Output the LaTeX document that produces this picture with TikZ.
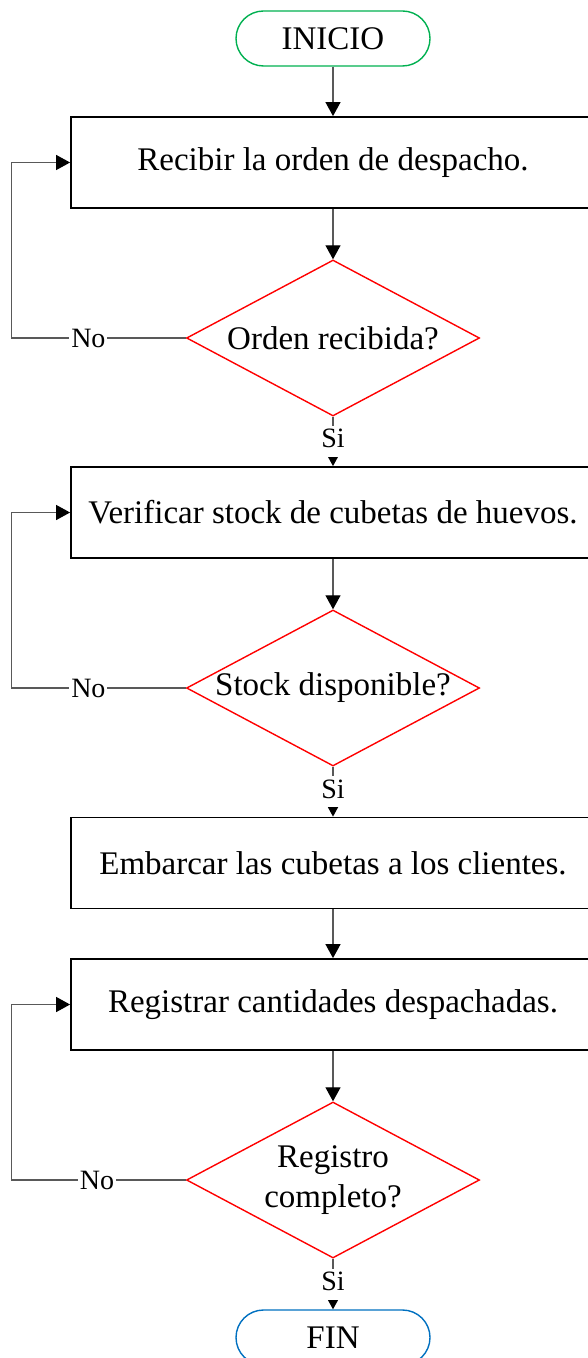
\documentclass[tikz,border=0pt]{standalone}
\usepackage{fontspec}
\setmainfont{Liberation Serif}
\usetikzlibrary{positioning,shapes.geometric,arrows.meta}
\definecolor{verdeini}{RGB}{0,176,80}
\definecolor{azulfin}{RGB}{0,112,192}
\tikzset{
  terminal/.style={draw, rounded corners=13.75pt, minimum width=97pt, minimum height=27.5pt, line width=0.7pt, font=\fontsize{16.5}{20}\selectfont},
  proceso/.style={draw, line width=0.9pt, minimum width=262pt, minimum height=45.5pt, inner sep=0pt, font=\fontsize{16.5}{20}\selectfont},
  decision/.style={diamond, draw=red, line width=0.7pt, aspect=1.88, inner sep=0pt, minimum width=146.5pt, minimum height=78pt, align=center, font=\fontsize{16.5}{20}\selectfont},
  flecha/.style={draw=black!65, line width=0.6pt, -{Triangle[length=7pt, width=7.5pt, color=black]}},
  etiq/.style={fill=white, inner sep=1pt, text height=10pt, text depth=3.5pt, font=\fontsize{14}{16}\selectfont},
}

\begin{document}
\begin{tikzpicture}[x=0.5pt, y=-0.5pt]
          \path[use as bounding box, clip] (0,0) rectangle (588,1358);
          \node[terminal, draw=verdeini] (ini) at (333,38.5) {INICIO};
          \node[proceso] (recibir) at (333,162.5) {Recibir la orden de despacho.};
          \node[decision] (orden) at (333,338) {Orden recibida?};
          \node[proceso] (verificar) at (333,512.5) {Verificar stock de cubetas de huevos.};
          \node[decision] (stock) at (333,688) {Stock disponible?};
          \node[proceso] (embarcar) at (333,863) {Embarcar las cubetas a los clientes.};
          \node[proceso] (registrar) at (333,1004.5) {Registrar cantidades despachadas.};
          \node[decision] (registro) at (333,1180) {Registro\\completo?};
          \node[terminal, draw=azulfin] (fin) at (333,1337.5) {FIN};
          % flujo principal
          \draw[flecha] (ini) -- (recibir);
          \draw[flecha] (recibir) -- (orden);
          \draw[flecha] (orden) -- node[etiq]{Si} (verificar);
          \draw[flecha] (verificar) -- (stock);
          \draw[flecha] (stock) -- node[etiq]{Si} (embarcar);
          \draw[flecha] (embarcar) -- (registrar);
          \draw[flecha] (registrar) -- (registro);
          \draw[flecha] (registro) -- node[etiq]{Si} (fin);
          % retornos
          \draw[flecha] (orden.west) -- node[etiq, text depth=1pt, pos=0.56]{No} ++(-174,0) |- (recibir.west);
          \draw[flecha] (stock.west) -- node[etiq, text depth=1pt, pos=0.56]{No} ++(-174,0) |- (verificar.west);
          \draw[flecha] (registro.west) -- node[etiq, text depth=1pt, pos=0.51]{No} ++(-174,0) |- (registrar.west);
        \end{tikzpicture}
\end{document}
